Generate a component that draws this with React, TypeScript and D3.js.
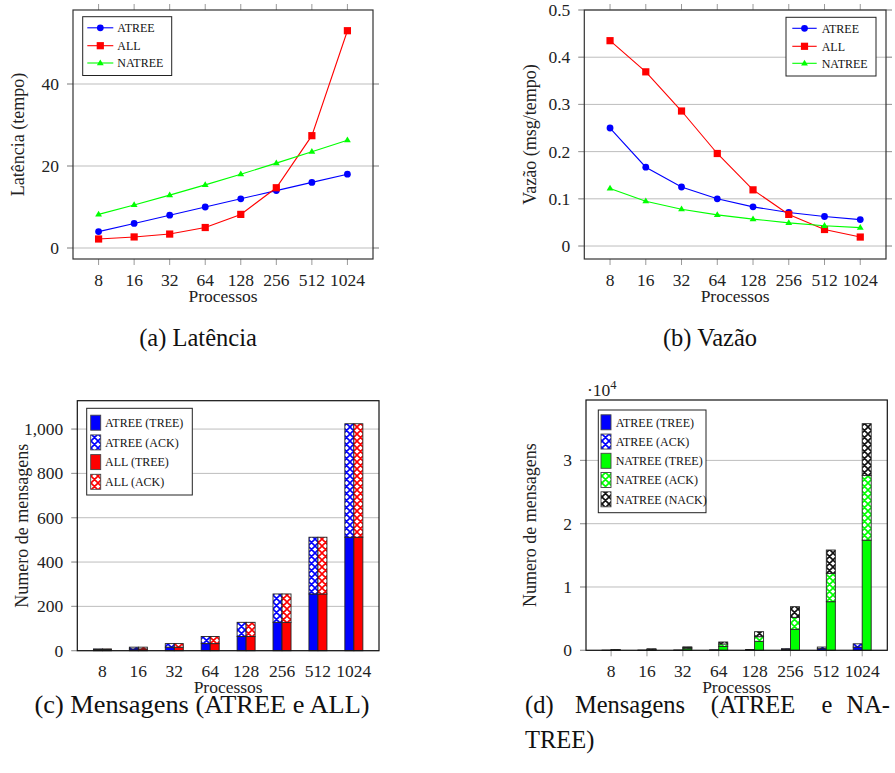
import React from "react";
import * as d3 from "d3";

const procs = ["8", "16", "32", "64", "128", "256", "512", "1024"];

const latATREE = [4, 6, 8, 10, 12, 14, 16, 18];
const latALL = [2.2, 2.7, 3.4, 5.0, 8.2, 14.7, 27.4, 53];
const latNATREE = [8.2, 10.5, 12.9, 15.4, 18.0, 20.7, 23.5, 26.3];

const vazATREE = [0.25, 0.167, 0.125, 0.1, 0.083, 0.071, 0.0625, 0.056];
const vazALL = [0.435, 0.369, 0.286, 0.196, 0.119, 0.067, 0.035, 0.019];
const vazNATREE = [0.122, 0.095, 0.078, 0.066, 0.057, 0.049, 0.043, 0.039];

const atreeTree = [4, 8, 16, 32, 64, 128, 256, 512];
const atreeAck = [4, 8, 16, 32, 64, 128, 256, 512];
const allTree = [4, 8, 16, 32, 64, 128, 256, 512];
const allAck = [4, 8, 16, 32, 64, 128, 256, 512];

const natreeTree = [45, 100, 240, 620, 1420, 3320, 7680, 17400];
const natreeAck = [30, 70, 170, 380, 730, 1890, 4480, 10200];
const natreeNack = [25, 60, 130, 310, 790, 1680, 3680, 8200];

const latTicks = [0, 20, 40];
const vazTicks = [0, 0.1, 0.2, 0.3, 0.4, 0.5];
const msgTicks = [0, 200, 400, 600, 800, 1000];
const msg4Ticks = [0, 10000, 20000, 30000];

const FONT = "Liberation Serif, DejaVu Serif, Noto Serif, Times New Roman, Times, serif";
const BLUE = "#0000ff";
const RED = "#ff0000";
const GREEN = "#00ff00";
const GRID = "#bdbdbd";
const TICK = "#9a9a9a";
const FRAME = "#333";

type Frame = { x0: number; x1: number; y0: number; y1: number };

const fA: Frame = { x0: 73, x1: 373, y0: 10, y1: 259 };
const fB: Frame = { x0: 584.3, x1: 886, y0: 10, y1: 259 };
const fC: Frame = { x0: 77.3, x1: 379, y0: 400.7, y1: 650.7 };
const fD: Frame = { x0: 586, x1: 887.3, y0: 400, y1: 650.3 };

const tStyle = (size: number) => ({ fontFamily: FONT, fontSize: size });

function Marker({ kind, x, y, color }: { kind: string; x: number; y: number; color: string }) {
  if (kind === "circle") return <circle cx={x} cy={y} r={3.4} fill={color} />;
  if (kind === "square") return <rect x={x - 3.6} y={y - 3.6} width={7.2} height={7.2} fill={color} />;
  const s = 3.6;
  return <path d={`M${x},${y - s} L${x + s * 0.95},${y + s * 0.6} L${x - s * 0.95},${y + s * 0.6} Z`} fill={color} />;
}

function Axes({
  f, x, y, yTicks, fmt, topTicks, rightTicks, bottomTicks, tickLabelY, titleY, yLabel, yLabelX,
}: any) {
  return (
    <g>
      {yTicks.map((t: number) => (
        <g key={t}>
          <line x1={f.x0 - 6} x2={rightTicks ? f.x1 + 6 : f.x1} y1={y(t)} y2={y(t)} stroke={GRID} strokeWidth={1} />
          <line x1={f.x0 - 6} x2={f.x0} y1={y(t)} y2={y(t)} stroke={TICK} strokeWidth={1} />
          {rightTicks && <line x1={f.x1} x2={f.x1 + 6} y1={y(t)} y2={y(t)} stroke={TICK} strokeWidth={1} />}
          <text x={f.x0 - 14} y={y(t) + 6} textAnchor="end" style={tStyle(17.5)} fill="#222">
            {fmt(t)}
          </text>
        </g>
      ))}
      {procs.map((p) => (
        <g key={p}>
          {bottomTicks && <line x1={x(p)} x2={x(p)} y1={f.y1} y2={f.y1 + 6} stroke={TICK} strokeWidth={1} />}
          {topTicks && <line x1={x(p)} x2={x(p)} y1={f.y0 - 6} y2={f.y0} stroke={TICK} strokeWidth={1} />}
          <text x={x(p)} y={tickLabelY} textAnchor="middle" style={tStyle(17.5)} fill="#222">
            {p}
          </text>
        </g>
      ))}
      <text x={(f.x0 + f.x1) / 2} y={titleY} textAnchor="middle" style={tStyle(17.5)} fill="#222">
        Processos
      </text>
      <text
        transform={`translate(${yLabelX},${(f.y0 + f.y1) / 2}) rotate(-90)`}
        dy="0.33em"
        textAnchor="middle"
        style={tStyle(18)}
        fill="#222"
      >
        {yLabel}
      </text>
    </g>
  );
}

function LinePanel({ f, yDomain, yTicks, fmt, series, legend, yLabel, yLabelX }: any) {
  const x = d3.scalePoint<string>().domain(procs).range([f.x0, f.x1]).padding(0.72);
  const y = d3.scaleLinear().domain(yDomain).range([f.y1, f.y0]);
  const line = d3
    .line<number>()
    .x((_, i) => x(procs[i]) as number)
    .y((d) => y(d));
  return (
    <g>
      <Axes f={f} x={x} y={y} yTicks={yTicks} fmt={fmt} topTicks rightTicks bottomTicks
        tickLabelY={f.y1 + 27} titleY={f.y1 + 43} yLabel={yLabel} yLabelX={yLabelX} />
      {series.map((s: any) => (
        <g key={s.name}>
          <path d={line(s.values) as string} fill="none" stroke={s.color} strokeWidth={1.1} />
          {s.values.map((v: number, i: number) => (
            <Marker key={i} kind={s.marker} x={x(procs[i]) as number} y={y(v)} color={s.color} />
          ))}
        </g>
      ))}
      <rect x={f.x0} y={f.y0} width={f.x1 - f.x0} height={f.y1 - f.y0} fill="none" stroke={FRAME} strokeWidth={1.2} />
      <rect x={legend.x0} y={legend.y0} width={legend.x1 - legend.x0} height={legend.y1 - legend.y0}
        fill="#fff" stroke="#222" strokeWidth={1} />
      {series.map((s: any, i: number) => {
        const cy = legend.rows[i];
        return (
          <g key={s.name}>
            <line x1={legend.lx0} x2={legend.lx1} y1={cy} y2={cy} stroke={s.color} strokeWidth={1.1} />
            <Marker kind={s.marker} x={(legend.lx0 + legend.lx1) / 2} y={cy} color={s.color} />
            <text x={legend.tx} y={cy + 4.3} style={tStyle(12)} fill="#111">{s.name}</text>
          </g>
        );
      })}
    </g>
  );
}

function BarPanel({ f, yDomain, yTicks, fmt, groups, legend, yLabel, yLabelX, bottomTicks }: any) {
  const x = d3.scalePoint<string>().domain(procs).range([f.x0, f.x1]).padding(0.7);
  const y = d3.scaleLinear().domain(yDomain).range([f.y1, f.y0]);
  const bw = 9;
  return (
    <g>
      <Axes f={f} x={x} y={y} yTicks={yTicks} fmt={fmt} bottomTicks={bottomTicks}
        tickLabelY={f.y1 + 26.5} titleY={f.y1 + 42.5} yLabel={yLabel} yLabelX={yLabelX} />
      {groups.map((g: any, gi: number) => {
        const table = procs.map((p, i) => {
          const row: any = { p };
          g.layers.forEach((l: any) => (row[l.key] = l.values[i]));
          return row;
        });
        const stacked = d3.stack().keys(g.layers.map((l: any) => l.key))(table);
        return (
          <g key={gi}>
            {stacked.map((layer: any, li: number) =>
              layer.map((d: any, i: number) => {
                const cx = x(procs[i]) as number;
                const x0 = gi === 0 ? cx - bw : cx;
                return (
                  <rect key={`${li}-${i}`} x={x0} y={y(d[1])} width={bw}
                    height={Math.max(0, y(d[0]) - y(d[1]))}
                    fill={g.layers[li].fill} stroke="#222" strokeWidth={0.9} />
                );
              })
            )}
          </g>
        );
      })}
      <rect x={f.x0} y={f.y0} width={f.x1 - f.x0} height={f.y1 - f.y0} fill="none" stroke="#111" strokeWidth={1.2} />
      <rect x={legend.x0} y={legend.y0} width={legend.x1 - legend.x0} height={legend.y1 - legend.y0}
        fill="#fff" stroke="#222" strokeWidth={1} />
      {legend.items.map((it: any, i: number) => {
        const cy = legend.y0 + legend.first + i * legend.step;
        return (
          <g key={it.name}>
            <rect x={legend.sx} y={cy - 7.5} width={10} height={15} fill={it.fill} stroke="#444" strokeWidth={0.9} />
            <text x={legend.tx} y={cy + 4.3} style={tStyle(12)} fill="#111">{it.name}</text>
          </g>
        );
      })}
    </g>
  );
}

function Hatch({ id, color }: { id: string; color: string }) {
  return (
    <pattern id={id} patternUnits="userSpaceOnUse" width={7} height={7}>
      <rect width={7} height={7} fill="#fff" />
      <path d="M0,0 L7,7 M7,0 L0,7 M-1,6 L1,8 M6,-1 L8,1 M-1,1 L1,-1 M6,8 L8,6" stroke={color} strokeWidth={1.6} />
    </pattern>
  );
}

export default function App() {
  const fmtNum = (v: number) => String(Math.round(v * 1000) / 1000);
  const fmtComma = d3.format(",");
  const fmt4 = (v: number) => String(v / 10000);

  return (
    <svg width={895} height={773} style={{ position: "absolute", left: 0, top: 0, background: "#fff" }}>
      <defs>
        <Hatch id="hBlue" color={BLUE} />
        <Hatch id="hRed" color={RED} />
        <Hatch id="hGreen" color={GREEN} />
        <Hatch id="hBlack" color="#111" />
      </defs>
      <rect width={895} height={773} fill="#fff" />

      <LinePanel
        f={fA}
        yDomain={[-2.68, 58.05]}
        yTicks={latTicks}
        fmt={fmtNum}
        yLabel="Latência (tempo)"
        yLabelX={18.3}
        series={[
          { name: "ATREE", values: latATREE, color: BLUE, marker: "circle" },
          { name: "ALL", values: latALL, color: RED, marker: "square" },
          { name: "NATREE", values: latNATREE, color: GREEN, marker: "triangle" },
        ]}
        legend={{ x0: 82.7, x1: 171.7, y0: 16.7, y1: 75.5, rows: [27.8, 45.7, 63], lx0: 87.3, lx1: 113.3, tx: 117.3 }}
      />
      <LinePanel
        f={fB}
        yDomain={[-0.0275, 0.5]}
        yTicks={vazTicks}
        fmt={fmtNum}
        yLabel="Vazão (msg/tempo)"
        yLabelX={530}
        series={[
          { name: "ATREE", values: vazATREE, color: BLUE, marker: "circle" },
          { name: "ALL", values: vazALL, color: RED, marker: "square" },
          { name: "NATREE", values: vazNATREE, color: GREEN, marker: "triangle" },
        ]}
        legend={{ x0: 786, x1: 876, y0: 17.3, y1: 76, rows: [28.3, 46.3, 63.3], lx0: 792.3, lx1: 816.7, tx: 821.7 }}
      />
      <BarPanel
        f={fC}
        yDomain={[0, 1128]}
        yTicks={msgTicks}
        fmt={fmtComma}
        yLabel="Numero de mensagens"
        yLabelX={21.7}
        groups={[
          { layers: [{ key: "tree", values: atreeTree, fill: BLUE }, { key: "ack", values: atreeAck, fill: "url(#hBlue)" }] },
          { layers: [{ key: "tree", values: allTree, fill: RED }, { key: "ack", values: allAck, fill: "url(#hRed)" }] },
        ]}
        legend={{
          x0: 86.7, x1: 192.3, y0: 408.3, y1: 495, first: 14.4, step: 19.7, sx: 90.7, tx: 105,
          items: [
            { name: "ATREE (TREE)", fill: BLUE },
            { name: "ATREE (ACK)", fill: "url(#hBlue)" },
            { name: "ALL (TREE)", fill: RED },
            { name: "ALL (ACK)", fill: "url(#hRed)" },
          ],
        }}
      />
      <BarPanel
        f={fD}
        yDomain={[0, 39540]}
        yTicks={msg4Ticks}
        fmt={fmt4}
        bottomTicks
        yLabel="Numero de mensagens"
        yLabelX={530}
        groups={[
          { layers: [{ key: "tree", values: atreeTree, fill: BLUE }, { key: "ack", values: atreeAck, fill: "url(#hBlue)" }] },
          {
            layers: [
              { key: "tree", values: natreeTree, fill: GREEN },
              { key: "ack", values: natreeAck, fill: "url(#hGreen)" },
              { key: "nack", values: natreeNack, fill: "url(#hBlack)" },
            ],
          },
        ]}
        legend={{
          x0: 598.3, x1: 706, y0: 410, y1: 512.7, first: 12.3, step: 19.25, sx: 601, tx: 615.7,
          items: [
            { name: "ATREE (TREE)", fill: BLUE },
            { name: "ATREE (ACK)", fill: "url(#hBlue)" },
            { name: "NATREE (TREE)", fill: GREEN },
            { name: "NATREE (ACK)", fill: "url(#hGreen)" },
            { name: "NATREE (NACK)", fill: "url(#hBlack)" },
          ],
        }}
      />
      <text x={587} y={396} style={tStyle(17.5)} fill="#222">
        ·10<tspan dy={-7} style={{ fontSize: 12.5 }}>4</tspan>
      </text>

      <g style={tStyle(24.5)} fill="#111">
        <text x={198} y={346} textAnchor="middle">(a) Latência</text>
        <text x={710} y={346} textAnchor="middle">(b) Vazão</text>
        <text x={202} y={713} textAnchor="middle" textLength={335} lengthAdjust="spacingAndGlyphs">
          (c) Mensagens (ATREE e ALL)
        </text>
        <text x={525} y={713}>(d)</text>
        <text x={630} y={713} textAnchor="middle">Mensagens</text>
        <text x={753} y={713} textAnchor="middle">(ATREE</text>
        <text x={827} y={713} textAnchor="middle">e</text>
        <text x={890} y={713} textAnchor="end">NA-</text>
        <text x={525} y={748}>TREE)</text>
      </g>
    </svg>
  );
}
